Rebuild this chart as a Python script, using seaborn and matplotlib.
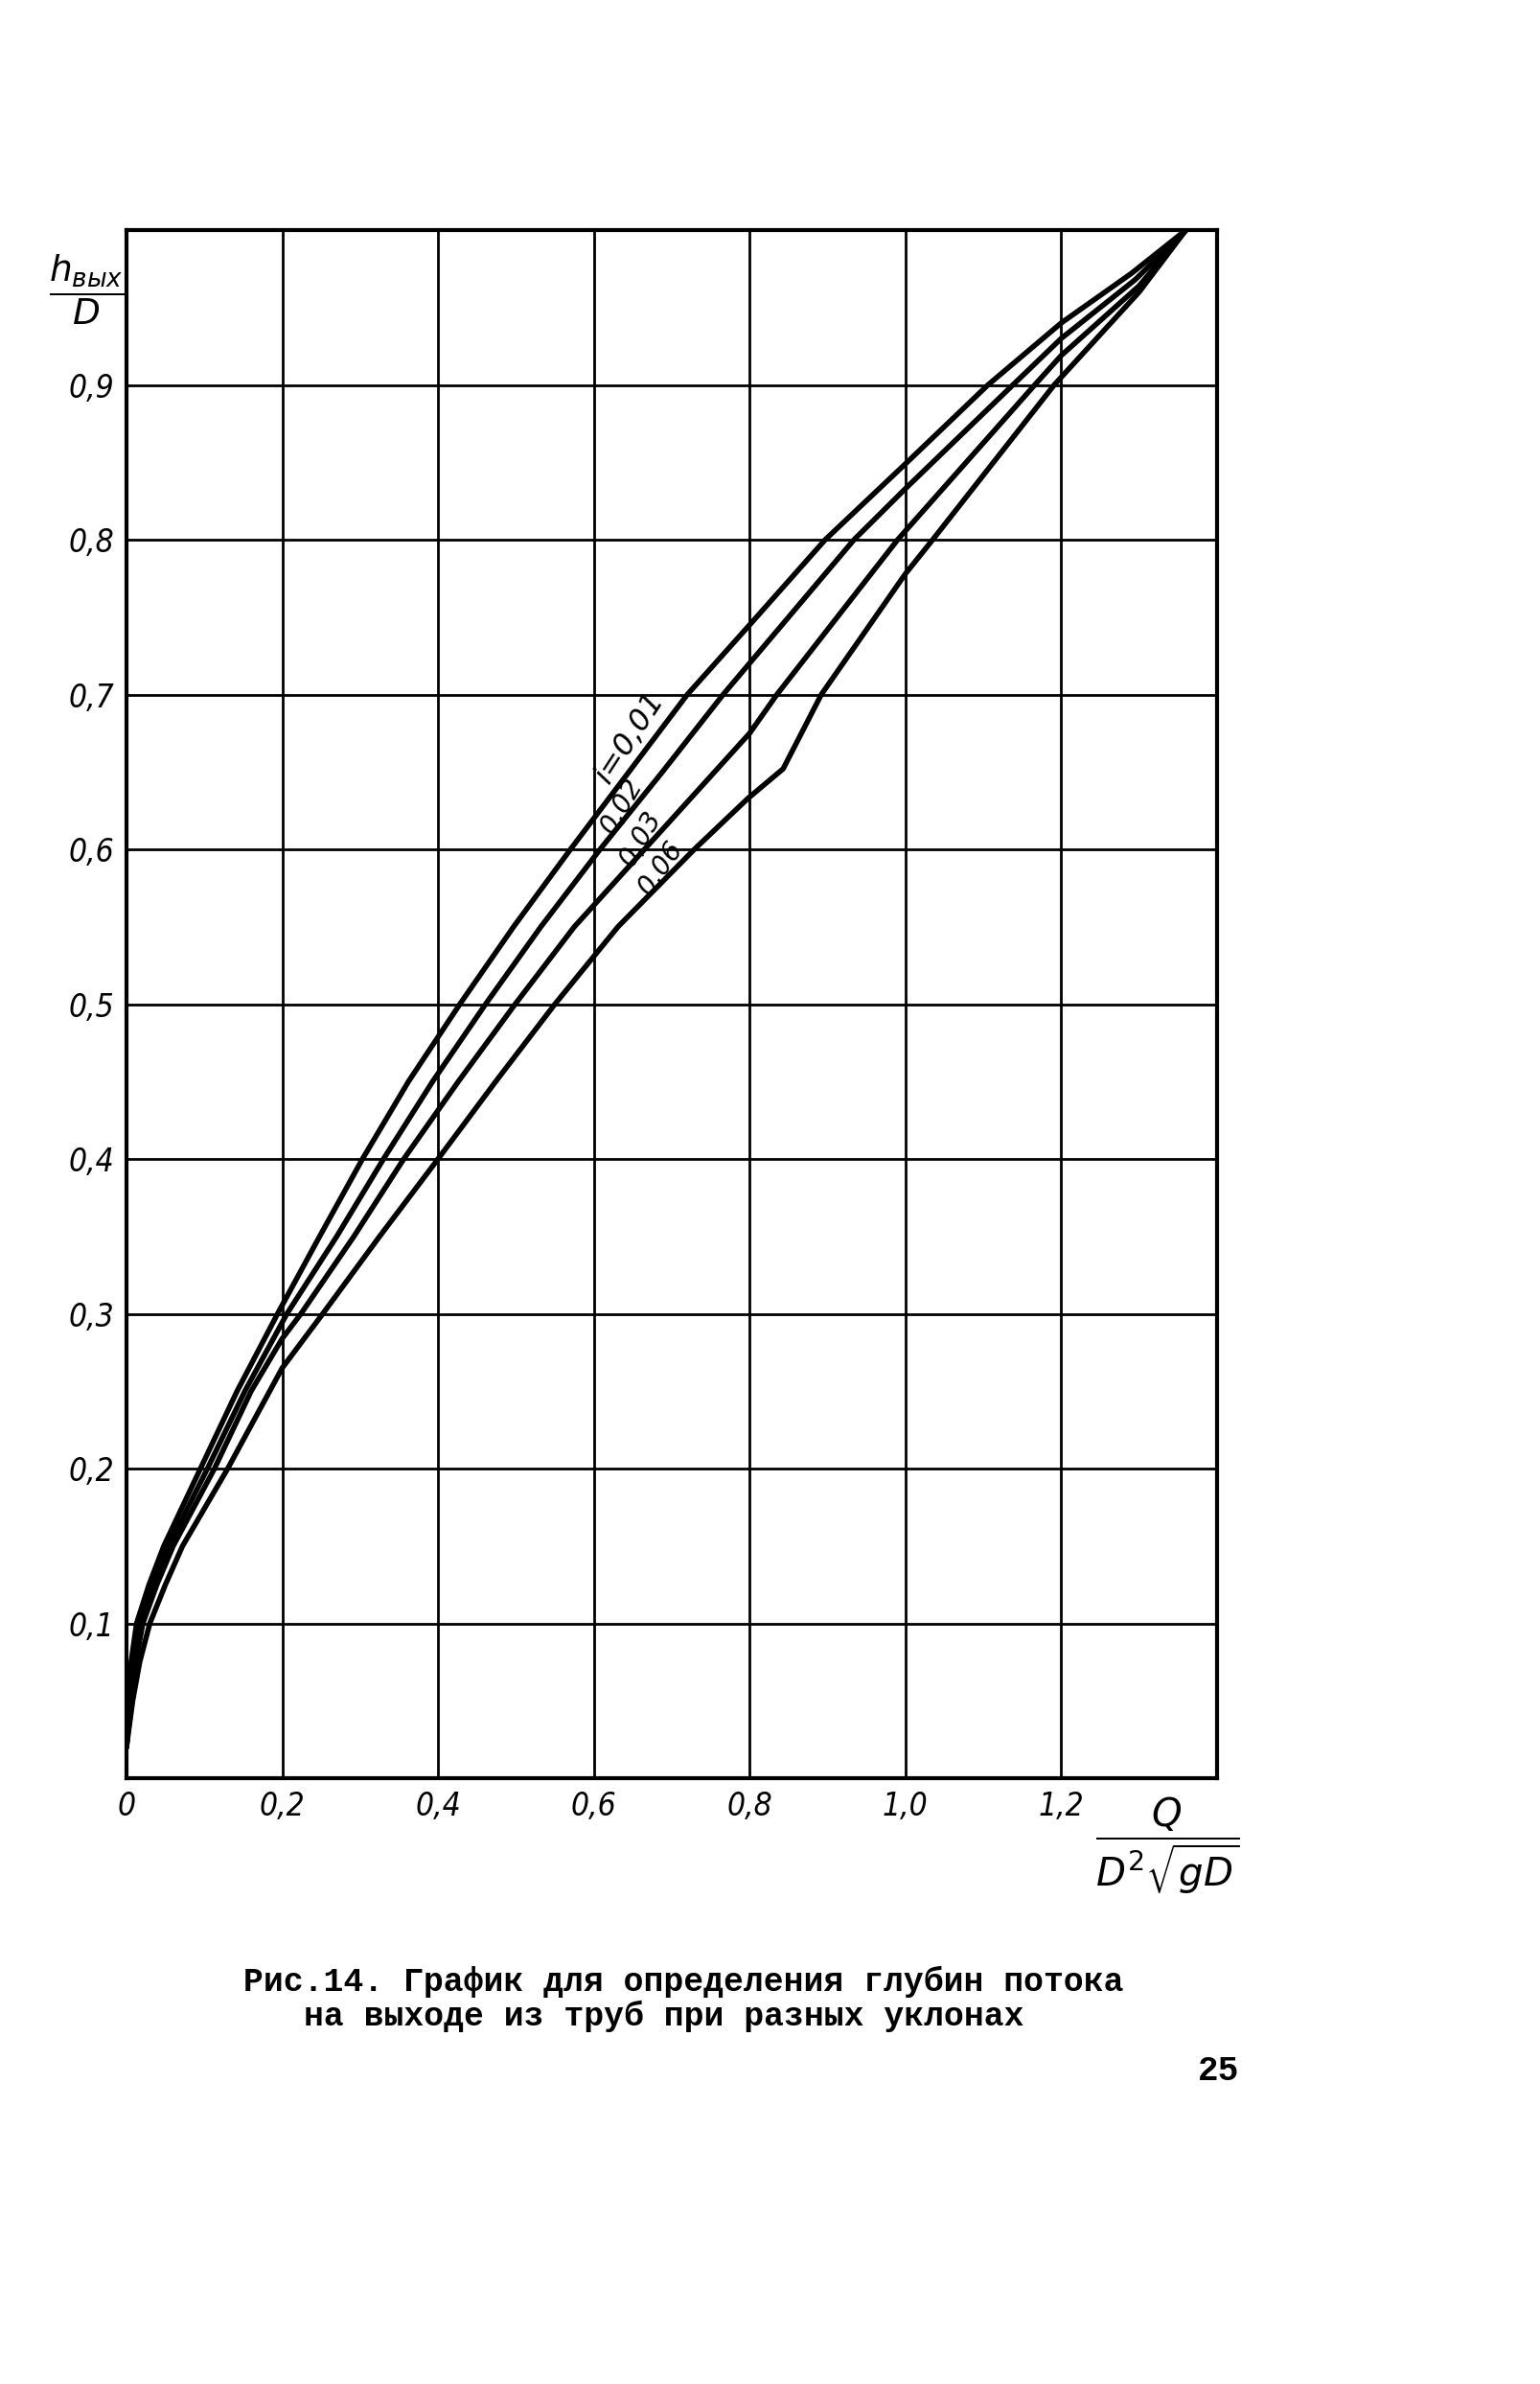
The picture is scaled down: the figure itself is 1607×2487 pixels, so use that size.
import numpy as np
import pandas as pd
import seaborn as sns
import matplotlib.pyplot as plt

## curve data (x = Q / (D^2 sqrt(gD)), y = h_vyh / D)
slopes = ["0,01", "0,02", "0,03", "0,06"]

x_001 = [0, 0.004, 0.006, 0.013, 0.029, 0.048, 0.095, 0.142, 0.194, 0.248, 0.303, 0.362, 0.428, 0.497, 0.57, 0.645, 0.72, 0.80, 0.897, 1.0, 1.106, 1.2, 1.29, 1.36]
y_001 = [0.02, 0.05, 0.075, 0.10, 0.125, 0.15, 0.20, 0.25, 0.30, 0.35, 0.40, 0.45, 0.50, 0.55, 0.60, 0.65, 0.70, 0.745, 0.80, 0.849, 0.90, 0.94, 0.972, 1.0]

x_002 = [0, 0.005, 0.009, 0.017, 0.034, 0.054, 0.104, 0.152, 0.206, 0.27, 0.33, 0.393, 0.461, 0.532, 0.608, 0.688, 0.766, 0.934, 1.0, 1.138, 1.2, 1.295, 1.36]
y_002 = [0.02, 0.05, 0.075, 0.10, 0.125, 0.15, 0.20, 0.25, 0.30, 0.35, 0.40, 0.45, 0.50, 0.55, 0.60, 0.65, 0.70, 0.80, 0.833, 0.90, 0.93, 0.968, 1.0]

x_003 = [0, 0.006, 0.012, 0.021, 0.039, 0.06, 0.113, 0.16, 0.2, 0.224, 0.292, 0.356, 0.426, 0.499, 0.575, 0.665, 0.80, 0.835, 0.99, 1.166, 1.2, 1.30, 1.36]
y_003 = [0.02, 0.05, 0.075, 0.10, 0.125, 0.15, 0.20, 0.25, 0.284, 0.30, 0.35, 0.40, 0.45, 0.50, 0.55, 0.60, 0.675, 0.70, 0.80, 0.90, 0.919, 0.964, 1.0]

x_006 = [0, 0.008, 0.017, 0.03, 0.05, 0.072, 0.13, 0.2, 0.252, 0.325, 0.40, 0.474, 0.55, 0.631, 0.729, 0.798, 0.843, 0.892, 1.0, 1.035, 1.191, 1.30, 1.36]
y_006 = [0.02, 0.05, 0.075, 0.10, 0.125, 0.15, 0.20, 0.265, 0.30, 0.35, 0.40, 0.45, 0.50, 0.55, 0.60, 0.633, 0.652, 0.70, 0.778, 0.80, 0.90, 0.96, 1.0]

x_ticks = [0, 0.2, 0.4, 0.6, 0.8, 1.0, 1.2, 1.4]
x_ticklabels = ["0", "0,2", "0,4", "0,6", "0,8", "1,0", "1,2", ""]
y_ticks = [0, 0.1, 0.2, 0.3, 0.4, 0.5, 0.6, 0.7, 0.8, 0.9, 1.0]
y_ticklabels = ["", "0,1", "0,2", "0,3", "0,4", "0,5", "0,6", "0,7", "0,8", "0,9", ""]

caption_1 = "Рис.14. График для определения глубин потока"
caption_2 = "на выходе из труб при разных уклонах"
page_no = "25"

## build long-form table
curves = pd.concat(
    [
        pd.DataFrame({"x": x_001, "y": y_001, "i": slopes[0]}),
        pd.DataFrame({"x": x_002, "y": y_002, "i": slopes[1]}),
        pd.DataFrame({"x": x_003, "y": y_003, "i": slopes[2]}),
        pd.DataFrame({"x": x_006, "y": y_006, "i": slopes[3]}),
    ],
    ignore_index=True,
)

sns.set_theme(style="white")
plt.rcParams["font.family"] = ["DejaVu Sans"]
plt.rcParams["mathtext.fontset"] = "dejavusans"
plt.rcParams["text.color"] = "black"

hand = ["DejaVu Sans"]

fig = plt.figure(figsize=(16.07, 24.87), dpi=100)
ax = fig.add_axes([0.0821, 0.2541, 0.7082, 0.6494])

sns.lineplot(
    data=curves, x="x", y="y", hue="i", palette=["black"] * 4,
    linewidth=4.0, legend=False, estimator=None, sort=False, ax=ax,
)

ax.set_xlim(0, 1.4)
ax.set_ylim(0, 1.0)
ax.set_xticks(x_ticks)
ax.set_xticklabels(x_ticklabels, fontsize=24, fontstyle="italic", family=hand,
                   fontstretch="condensed")
ax.set_yticks(y_ticks)
ax.set_yticklabels(y_ticklabels, fontsize=24, fontstyle="italic", family=hand,
                   fontstretch="condensed")
ax.tick_params(length=0, pad=9, colors="black")
ax.grid(True, color="black", linewidth=2.0)
ax.set_axisbelow(True)
for s in ax.spines.values():
    s.set_color("black")
    s.set_linewidth(3.0)
ax.set_xlabel("")
ax.set_ylabel("")

## curve labels (handwritten on the chart)
ax.text(0.647, 0.672, "i=" + slopes[0], rotation=57, fontsize=23, fontstyle="italic",
        family=hand, ha="center", va="center")
ax.text(0.636, 0.628, slopes[1], rotation=60, fontsize=20, fontstyle="italic",
        family=hand, ha="center", va="center")
ax.text(0.660, 0.607, slopes[2], rotation=60, fontsize=20, fontstyle="italic",
        family=hand, ha="center", va="center")
ax.text(0.686, 0.588, slopes[3], rotation=55, fontsize=20, fontstyle="italic",
        family=hand, ha="center", va="center")

## axis titles
fig.text(0.056, 1 - 302 / 2487, r"$\dfrac{h_{вых}}{D}$", fontsize=27,
         ha="center", va="center")
fig.text(0.758, 1 - 1925 / 2487, r"$\dfrac{Q}{D^2\sqrt{gD}}$", fontsize=29,
         ha="center", va="center")

## caption and page number
fig.text(254 / 1607, 1 - 2067 / 2487, caption_1, family="Liberation Mono",
         fontweight="bold", fontsize=25, ha="left", va="center")
fig.text(317 / 1607, 1 - 2103 / 2487, caption_2, family="Liberation Mono",
         fontweight="bold", fontsize=25, ha="left", va="center")
fig.text(1250 / 1607, 1 - 2160 / 2487, page_no, family="Liberation Mono",
         fontweight="bold", fontsize=26, ha="left", va="center")

fig.savefig("out.png", dpi=100, facecolor="white")
